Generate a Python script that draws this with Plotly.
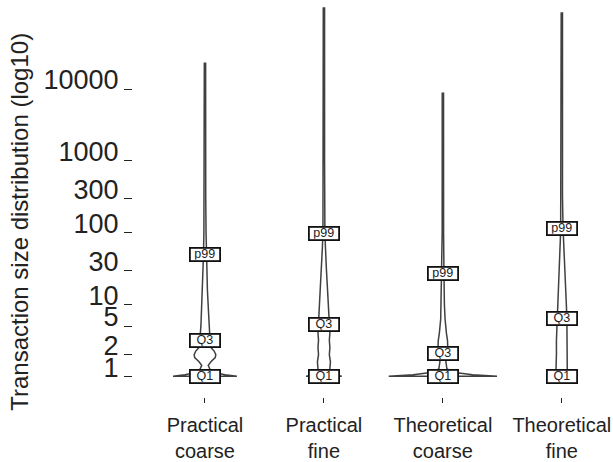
import numpy as np
import plotly.graph_objects as go

# ---- data ----
categories = ["Practical<br>coarse", "Practical<br>fine", "Theoretical<br>coarse", "Theoretical<br>fine"]

# quantiles (transaction size)
q1_vals = [1, 1, 1, 1]
q3_vals = [3.1, 5.2, 2.1, 6.3]
p99_vals = [50, 97, 27, 115]
max_vals = [23000, 127000, 8800, 115000]

# violin density profiles: log10(size) levels and relative density (1 = widest)
pc_levels = [0.00, 0.02, 0.05, 0.10, 0.15, 0.20, 0.26, 0.30, 0.35, 0.40, 0.45, 0.50, 0.55, 0.70, 0.90, 1.20, 1.50, 1.70, 2.00, 2.50, 3.00, 4.36]
pc_density = [0.59, 0.37, 0.17, 0.09, 0.06, 0.11, 0.19, 0.20, 0.17, 0.11, 0.13, 0.12, 0.09, 0.075, 0.065, 0.045, 0.033, 0.027, 0.02, 0.014, 0.012, 0.012]

pf_levels = [0.00, 0.02, 0.05, 0.10, 0.20, 0.30, 0.40, 0.50, 0.60, 0.72, 0.90, 1.20, 1.50, 1.80, 2.00, 3.00, 5.13]
pf_density = [0.33, 0.19, 0.13, 0.11, 0.12, 0.10, 0.11, 0.10, 0.11, 0.10, 0.09, 0.065, 0.045, 0.028, 0.018, 0.012, 0.012]

tc_levels = [0.00, 0.02, 0.05, 0.10, 0.20, 0.30, 0.40, 0.50, 0.60, 0.80, 1.00, 1.43, 2.00, 3.94]
tc_density = [1.00, 0.55, 0.22, 0.075, 0.055, 0.075, 0.09, 0.085, 0.065, 0.04, 0.028, 0.02, 0.013, 0.012]

tf_levels = [0.00, 0.03, 0.10, 0.30, 0.50, 0.80, 1.00, 1.30, 1.60, 1.90, 2.06, 2.50, 5.06]
tf_density = [0.15, 0.11, 0.10, 0.10, 0.10, 0.093, 0.083, 0.065, 0.046, 0.028, 0.022, 0.012, 0.012]

y_tick_vals = [1, 2, 5, 10, 30, 100, 300, 1000, 10000]
y_tick_text = ["1", "2", "5", "10", "30", "100", "300", "1000", "10000"]

# ---- styling ----
MAX_HALF = 0.455
LINE_COLOR = "#404040"
FONT = "Liberation Sans, Arial, sans-serif"

profiles = [(pc_levels, pc_density), (pf_levels, pf_density),
            (tc_levels, tc_density), (tf_levels, tf_density)]

fig = go.Figure()
for i, (lv, dens) in enumerate(profiles):
    lv = np.array(lv)
    half = np.array(dens) * MAX_HALF
    yv = 10 ** lv
    xs = np.concatenate([i + half, (i - half)[::-1], [i + half[0]]])
    ys = np.concatenate([yv, yv[::-1], [yv[0]]])
    fig.add_trace(go.Scatter(x=xs, y=ys, mode="lines",
                             line=dict(color=LINE_COLOR, width=1.5),
                             hoverinfo="skip", showlegend=False))

for i in range(len(categories)):
    for name, v in (("Q1", q1_vals[i]), ("Q3", q3_vals[i]), ("p99", p99_vals[i])):
        fig.add_annotation(x=i, y=np.log10(v), xref="x", yref="y", text=name,
                           showarrow=False, font=dict(family=FONT, size=12.5, color="#222"),
                           bgcolor="white", bordercolor="#111", borderwidth=1.8,
                           borderpad=0, width=28, height=11)

fig.add_annotation(x=(20 - 133) / 480, y=(400 - 223.5) / 400, xref="paper", yref="paper",
                   text="Transaction size distribution (log10)", textangle=-90,
                   showarrow=False, font=dict(family=FONT, size=24, color="#222"),
                   xanchor="center", yanchor="middle")

fig.update_layout(
    width=613, height=462,
    margin=dict(l=133, r=0, t=0, b=62),
    paper_bgcolor="white", plot_bgcolor="white",
    font=dict(family=FONT, color="#222"),
    xaxis=dict(range=[-0.605, 3.43], tickvals=list(range(len(categories))), ticktext=categories,
               showgrid=False, zeroline=False, showline=False,
               ticks="outside", ticklen=5, tickcolor="#222", tickwidth=1.2,
               tickfont=dict(size=20, family=FONT, color="#222"), ticklabelstandoff=5),
    yaxis=dict(type="log", range=[-0.29, 5.24], tickvals=y_tick_vals, ticktext=y_tick_text,
               showgrid=False, zeroline=False, showline=False,
               ticks="outside", ticklen=8, tickcolor="#222", tickwidth=1.2,
               tickfont=dict(size=27, family=FONT, color="#222"),
               ticklabelstandoff=0, ticklabelshift=-9),
)

fig.write_html("out.html")
